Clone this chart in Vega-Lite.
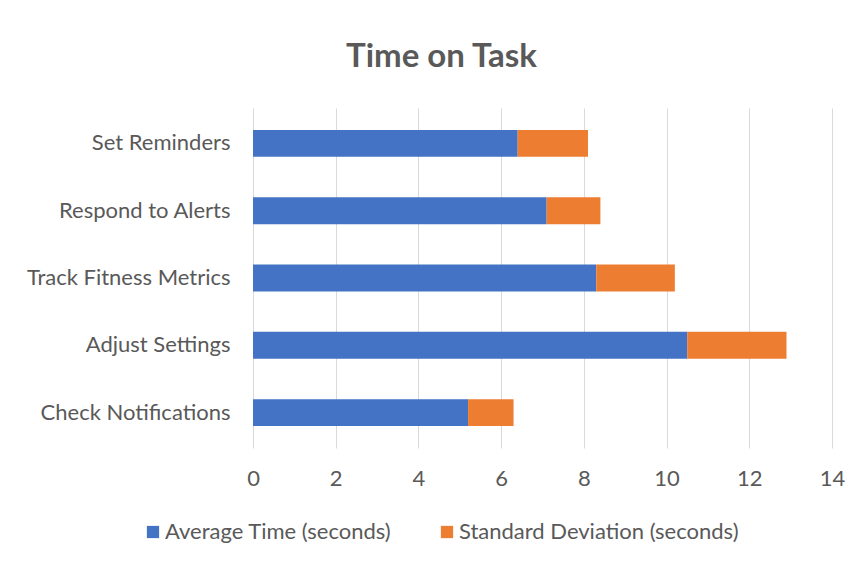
{
  "$schema": "https://vega.github.io/schema/vega-lite/v6.json",
  "width": 579,
  "height": 340,
  "autosize": "none",
  "padding": {"left": 253, "top": 108, "right": 30, "bottom": 113},
  "background": "white",
  "title": {
    "text": "Time on Task",
    "font": "Lato",
    "fontSize": 33,
    "fontWeight": "bold",
    "color": "#595959",
    "anchor": "middle",
    "dx": -101,
    "offset": 34
  },
  "data": {
    "values": [
      {"task": "Set Reminders", "series": "Average Time (seconds)", "value": 6.4},
      {"task": "Set Reminders", "series": "Standard Deviation (seconds)", "value": 1.7},
      {"task": "Respond to Alerts", "series": "Average Time (seconds)", "value": 7.1},
      {"task": "Respond to Alerts", "series": "Standard Deviation (seconds)", "value": 1.3},
      {"task": "Track Fitness Metrics", "series": "Average Time (seconds)", "value": 8.3},
      {"task": "Track Fitness Metrics", "series": "Standard Deviation (seconds)", "value": 1.9},
      {"task": "Adjust Settings", "series": "Average Time (seconds)", "value": 10.5},
      {"task": "Adjust Settings", "series": "Standard Deviation (seconds)", "value": 2.4},
      {"task": "Check Notifications", "series": "Average Time (seconds)", "value": 5.2},
      {"task": "Check Notifications", "series": "Standard Deviation (seconds)", "value": 1.1}
    ]
  },
  "mark": {"type": "bar"},
  "encoding": {
    "y": {
      "field": "task",
      "type": "nominal",
      "sort": ["Set Reminders", "Respond to Alerts", "Track Fitness Metrics", "Adjust Settings", "Check Notifications"],
      "scale": {"paddingInner": 0.6, "paddingOuter": 0.326},
      "axis": {
        "title": null,
        "domain": false,
        "ticks": false,
        "grid": false,
        "labelPadding": 23,
        "labelFont": "Lato",
        "labelFontSize": 22,
        "labelColor": "#595959",
        "labelLimit": 300
      }
    },
    "x": {
      "field": "value",
      "type": "quantitative",
      "stack": "zero",
      "scale": {"domain": [0, 14], "nice": false},
      "axis": {
        "title": null,
        "values": [0, 2, 4, 6, 8, 10, 12, 14],
        "domain": false,
        "ticks": false,
        "grid": true,
        "gridColor": "#D9D9D9",
        "gridWidth": 1,
        "labelFlush": false,
        "labelPadding": 20,
        "labelFont": "Lato",
        "labelFontSize": 22,
        "labelColor": "#595959"
      }
    },
    "color": {
      "field": "series",
      "type": "nominal",
      "scale": {
        "domain": ["Average Time (seconds)", "Standard Deviation (seconds)"],
        "range": ["#4472C4", "#ED7D31"]
      },
      "legend": {
        "title": null,
        "orient": "none",
        "legendX": -111,
        "legendY": 413,
        "direction": "horizontal",
        "symbolType": "square",
        "symbolSize": 150,
        "symbolStrokeWidth": 0,
        "labelFont": "Lato",
        "labelFontSize": 22,
        "labelColor": "#595959",
        "labelLimit": 400,
        "labelOffset": 1,
        "columnPadding": 44
      }
    },
    "order": {"field": "series", "sort": "ascending"}
  },
  "config": {"view": {"stroke": null}}
}
